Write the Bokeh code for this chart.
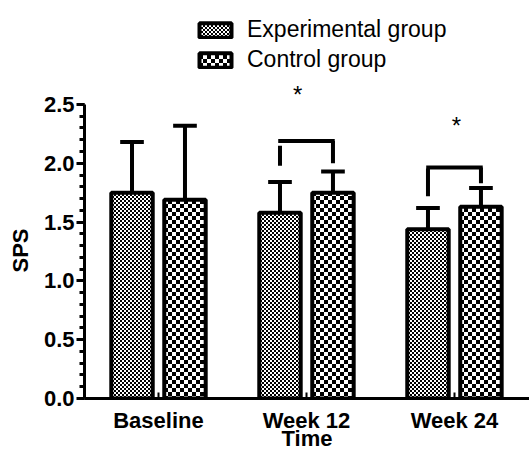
from bokeh.plotting import figure
from bokeh.models import (Range1d, SingleIntervalTicker, FixedTicker, PrintfTickFormatter,
                          Legend, LegendItem, CanvasTexture, ColumnDataSource, Title)
from bokeh.core.properties import value
from bokeh.transform import dodge
from bokeh.embed import file_html
from bokeh.resources import INLINE

# ---------------- data ----------------
categories = ["Baseline", "Week 12", "Week 24"]
experimental_mean = [1.75, 1.58, 1.44]
experimental_upper = [2.18, 1.84, 1.62]
control_mean = [1.69, 1.75, 1.63]
control_upper = [2.32, 1.93, 1.79]

# significance brackets (Week 12, Week 24)
sig_index = [1, 2]
sig_bracket_top = [2.19, 1.965]
sig_left_top = [2.15, 1.955]
sig_left_bottom = [1.98, 1.72]
sig_right_bottom = [2.00, 1.83]
sig_star_y = [2.60, 2.335]
sig_text = ["*", "*"]

y_label = "SPS"
x_label = "Time"

# ---------------- layout / style constants ----------------
FONT = "Liberation Sans"
OFF = 0.179      # dodge offset of each bar from the group centre
BAR_W = 0.28
CAP = 0.08
LW = 4
STAR_DX = [-0.06, 0.014]

centers = [i + 0.5 for i in range(len(categories))]
exp_x = [c - OFF for c in centers]
ctl_x = [c + OFF for c in centers]

src_exp = ColumnDataSource(dict(x=exp_x, top=experimental_mean, up=experimental_upper))
src_ctl = ColumnDataSource(dict(x=ctl_x, top=control_mean, up=control_upper))

p = figure(width=529, height=454, output_backend="svg", toolbar_location=None,
           x_range=Range1d(0, 3.007), y_range=Range1d(0, 3.384),
           min_border_left=84, min_border_right=0, min_border_top=0, min_border_bottom=56)
p.outline_line_color = None
p.xgrid.visible = False
p.ygrid.visible = False
p.background_fill_color = "white"
p.border_fill_color = "white"

# checkerboard tile; tile size taken from hatch_weight
CHECKER = """
const s = weight;
const cv = ctx.canvas;
if (cv != null) { cv.width = s; cv.height = s; }
ctx.clearRect(0, 0, s, s);
ctx.fillStyle = "#000000";
const c = s / 2;
ctx.fillRect(0, 0, c, c);
ctx.fillRect(c, c, c, c);
"""
fine = CanvasTexture(code=CHECKER)
coarse = CanvasTexture(code=CHECKER)

# error bars (upper only)
for src in (src_exp, src_ctl):
    p.segment(x0="x", y0="top", x1="x", y1="up", source=src, line_color="black", line_width=LW)
    p.segment(x0=dodge("x", -CAP), y0="up", x1=dodge("x", CAP), y1="up", source=src,
              line_color="black", line_width=LW)

r_exp = p.vbar(x="x", top="top", bottom=0, width=BAR_W, source=src_exp,
               fill_color="white", line_color="black", line_width=LW,
               hatch_pattern=value("fine"), hatch_extra={"fine": fine},
               hatch_color="black", hatch_scale=4, hatch_weight=4)
r_ctl = p.vbar(x="x", top="top", bottom=0, width=BAR_W, source=src_ctl,
               fill_color="white", line_color="black", line_width=LW,
               hatch_pattern=value("coarse"), hatch_extra={"coarse": coarse},
               hatch_color="black", hatch_scale=8, hatch_weight=8)

# significance brackets
bl = [centers[i] - OFF for i in sig_index]
br = [centers[i] + OFF for i in sig_index]
src_sig = ColumnDataSource(dict(xl=bl, xr=br, top=sig_bracket_top, ltop=sig_left_top,
                                lbot=sig_left_bottom, rbot=sig_right_bottom,
                                sx=[(a + b) / 2 + d for a, b, d in zip(bl, br, STAR_DX)],
                                sy=sig_star_y, t=sig_text))
p.segment(x0=dodge("xl", -0.012), y0="top", x1=dodge("xr", 0.012), y1="top", source=src_sig,
          line_color="black", line_width=LW)
p.segment(x0="xl", y0="ltop", x1="xl", y1="lbot", source=src_sig, line_color="black", line_width=LW)
p.segment(x0="xr", y0="top", x1="xr", y1="rbot", source=src_sig, line_color="black", line_width=LW)
p.text(x="sx", y="sy", text="t", source=src_sig, text_font=value(FONT), text_font_size="24px",
       text_align="center", text_baseline="middle", y_offset=2, text_color="black")

# axes
yax = p.yaxis[0]
yax.bounds = (0, 2.5)
yax.ticker = SingleIntervalTicker(interval=0.5, num_minor_ticks=5)
yax.formatter = PrintfTickFormatter(format="%.1f")
yax.axis_line_width = 3
yax.major_tick_line_width = 3
yax.minor_tick_line_width = 3
yax.major_tick_out = 8
yax.major_tick_in = 0
yax.minor_tick_out = 5
yax.minor_tick_in = 0
yax.major_label_standoff = 2
yax.major_label_text_font = FONT
yax.major_label_text_font_style = "bold"
yax.major_label_text_font_size = "22px"
yax.major_label_text_color = "black"

xax = p.xaxis[0]
xax.ticker = FixedTicker(ticks=centers)
xax.major_label_overrides = {c: name for c, name in zip(centers, categories)}
xax.axis_line_width = 3
xax.major_tick_line_width = 2
xax.major_tick_in = 6
xax.major_tick_out = 0
xax.minor_tick_line_color = None
xax.major_label_standoff = 9
xax.major_label_text_font = FONT
xax.major_label_text_font_style = "bold"
xax.major_label_text_font_size = "22px"
xax.major_label_text_color = "black"
xax.axis_label = x_label
xax.axis_label_text_font = FONT
xax.axis_label_text_font_style = "bold"
xax.axis_label_text_font_size = "22px"
xax.axis_label_text_color = "black"
xax.axis_label_standoff = -10

# y title centred on the drawn axis extent rather than the frame
p.add_layout(Title(text=y_label, align="left", offset=126, standoff=12, vertical_align="top",
                   text_font=FONT, text_font_style="bold", text_font_size="22px",
                   text_color="black"), "left")

legend = Legend(items=[LegendItem(label="Experimental group", renderers=[r_exp]),
                       LegendItem(label="Control group", renderers=[r_ctl])],
                location=(111, 325), orientation="vertical",
                glyph_width=40, glyph_height=18, label_standoff=12, spacing=3,
                padding=0, margin=0, border_line_color=None, background_fill_alpha=0,
                label_text_font=FONT, label_text_font_size="23px", label_text_color="black")
p.add_layout(legend)

open("out.html", "w").write(file_html(p, INLINE))
